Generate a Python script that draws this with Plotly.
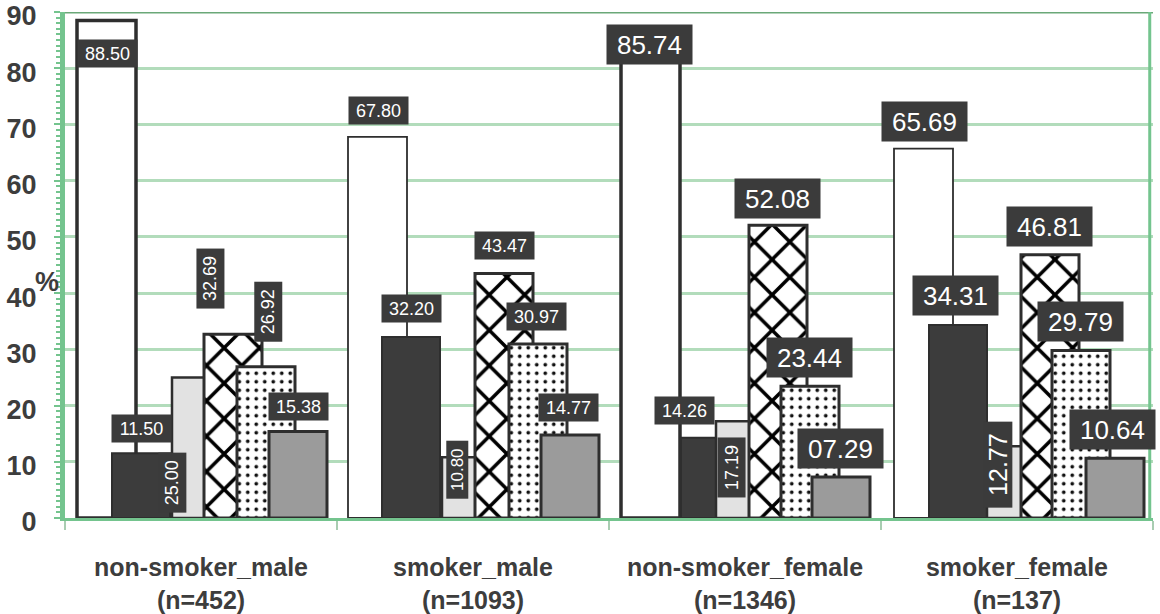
import plotly.graph_objects as go

# ---- data -------------------------------------------------------------
groups = ["non-smoker_male", "smoker_male", "non-smoker_female", "smoker_female"]
group_n = [452, 1093, 1346, 137]

white_vals = [88.50, 67.80, 85.74, 65.69]
dark_vals = [11.50, 32.20, 14.26, 34.31]
light_vals = [25.00, 10.80, 17.19, 12.77]
cross_vals = [32.69, 43.47, 52.08, 46.81]
dotted_vals = [26.92, 30.97, 23.44, 29.79]
gray_vals = [15.38, 14.77, 7.29, 10.64]

# ---- geometry (one category = one x unit, measured in pixels) ----------
GROUP_PX = 272.0
W, H = 1160, 614
M_L, M_R, M_T, M_B = 65, 7, 12, 96
FONT = "Liberation Sans, Arial"


def px(v):
    return v / GROUP_PX


x_pos = list(range(len(groups)))

series = [
    dict(name="white", vals=white_vals, off=[12, 11, 12, 13], w=59,
         color="#ffffff", lw=[3.5, 1.8, 3.5, 1.8]),
    dict(name="dark", vals=dark_vals, off=[47, 45, 72, 48], w=58,
         color="#3c3c3c", lw=[2, 2, 2, 2]),
    dict(name="light", vals=light_vals, off=[107, 105, 107, 106], w=57,
         color="#e2e2e2", lw=[2.5, 2.5, 2.5, 2.5]),
    dict(name="cross", vals=cross_vals, off=[139, 138, 140, 140], w=58,
         color="#ffffff", lw=[3, 3, 3, 3],
         pattern=dict(shape="x", fgcolor="#000000", fgopacity=1, size=25, solidity=0.26)),
    dict(name="dotted", vals=dotted_vals, off=[172, 172, 172, 171], w=58,
         color="#ffffff", lw=[3, 3, 3, 3],
         pattern=dict(shape=".", fgcolor="#111111", fgopacity=1, size=8.5, solidity=0.15)),
    dict(name="gray", vals=gray_vals, off=[204, 204, 203, 205], w=58,
         color="#9b9b9b", lw=[3, 3, 3, 3]),
]

fig = go.Figure()
for s in series:
    marker = dict(color=s["color"], line=dict(color="#2e2e2e", width=s["lw"]))
    if "pattern" in s:
        marker["pattern"] = s["pattern"]
    fig.add_trace(go.Bar(
        x=x_pos, y=s["vals"], name=s["name"],
        offset=[px(o) for o in s["off"]], width=px(s["w"]),
        marker=marker, showlegend=False, hoverinfo="skip",
    ))

# ---- value labels: (x offset px in group, y centre, size class, rotated)
label_layout = {
    "white":  [(42, 82.7, "S", 0), (41, 72.4, "S", 0), (40, 84.3, "L", 0), (43, 70.6, "L", 0)],
    "dark":   [(76, 16.0, "S", 0), (74, 37.2, "S", 0), (75, 19.2, "S", 0), (74, 39.5, "L", 0)],
    "light":  [(107, 6.2, "S", 1), (120, 8.5, "N", 1), (123, 8.9, "S", 1), (117, 9.4, "LR", 1)],
    "cross":  [(145, 42.5, "S", 1), (167, 48.4, "S", 0), (168, 56.9, "L", 0), (168, 51.8, "L", 0)],
    "dotted": [(203, 36.6, "S", 1), (199, 35.9, "S", 0), (200, 28.5, "L", 0), (199, 34.9, "L", 0)],
    "gray":   [(233, 19.9, "S", 0), (231, 19.6, "S", 0), (231, 12.3, "L", 0), (231, 15.8, "L", 0)],
}
# box size (w, h) before rotation and font size
box_style = {
    "S": (59, 27, 18),
    "N": (57, 21, 17),
    "L": (85, 39, 26),
    "LR": (85, 28, 25),
}

annotations = []
for s in series:
    for g, v in enumerate(s["vals"]):
        dx, yc, cls, rot = label_layout[s["name"]][g]
        bw, bh, fs = box_style[cls]
        annotations.append(dict(
            x=g + px(dx), y=yc, xref="x", yref="y",
            text=f"{v:05.2f}", showarrow=False,
            font=dict(family=FONT, size=fs, color="#ffffff"),
            bgcolor="#3b3b3b", width=bw, height=bh, borderpad=0,
            textangle=-90 if rot else 0,
            xanchor="center", yanchor="middle", valign="middle",
        ))

annotations.append(dict(
    x=-0.0165, y=0.466, xref="paper", yref="paper", text="<b>%</b>",
    showarrow=False, font=dict(family=FONT, size=27, color="#3d3d3d"),
    xanchor="center", yanchor="middle",
))

green_axis = "#74c48e"
grid_green = "#b2dcbb"

fig.update_layout(
    width=W, height=H,
    margin=dict(l=M_L, r=M_R, t=M_T, b=M_B, autoexpand=False),
    paper_bgcolor="#ffffff", plot_bgcolor="#ffffff",
    barmode="overlay",
    annotations=annotations,
    font=dict(family=FONT, color="#3d3d3d"),
    shapes=[
        dict(type="line", xref="paper", yref="y", x0=0, x1=1, y0=90, y1=90,
             line=dict(color="#6aa878", width=3)),
        dict(type="line", xref="paper", yref="paper", x0=0.997, x1=0.997, y0=0, y1=1,
             line=dict(color=green_axis, width=3)),
    ],
)

tick_text = [f"<b>{g}</b><br><b>(n={n})</b>" for g, n in zip(groups, group_n)]
fig.update_xaxes(
    range=[0, len(groups)], tickvals=[g + 0.5 for g in x_pos], ticktext=tick_text,
    ticks="", showgrid=False, zeroline=False, automargin=False,
    showline=True, linecolor=green_axis, linewidth=3,
    tickfont=dict(size=25, color="#3d3d3d"), ticklabelstandoff=25,
    minor=dict(tickvals=list(range(len(groups) + 1)), ticks="outside", ticklen=9,
               tickwidth=2, tickcolor="#a9cdb2", showgrid=False),
)
fig.update_yaxes(
    range=[0, 90], dtick=10, showgrid=True, gridcolor=grid_green, gridwidth=3,
    zeroline=False, showline=True, linecolor=green_axis, linewidth=5, automargin=False,
    ticks="outside", ticklen=6, tickcolor=green_axis, tickwidth=2,
    tickfont=dict(size=27, color="#3d3d3d"), tickprefix="<b>", ticksuffix="</b>",
    ticklabelstandoff=12, ticklabeloverflow="allow", ticklabelshift=4,
    minor=dict(dtick=1, ticks="outside", ticklen=4, tickcolor=green_axis, tickwidth=2,
               showgrid=False),
)

fig.write_html("out.html")
